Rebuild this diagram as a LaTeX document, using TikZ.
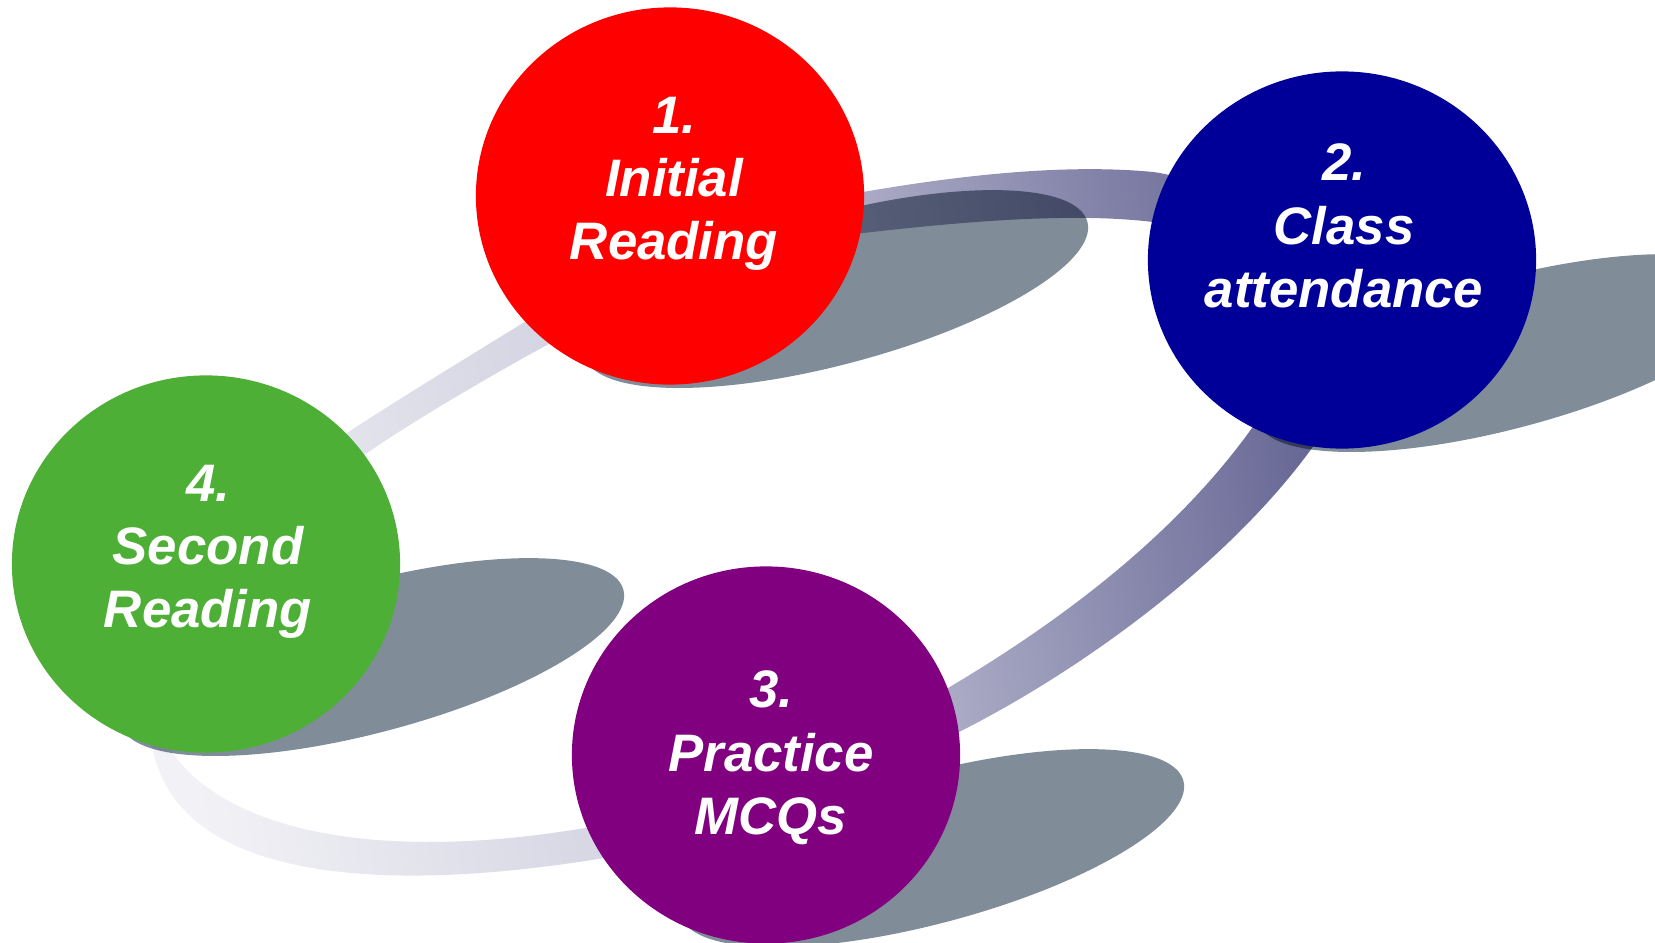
\documentclass[tikz,border=0pt]{standalone}
\usepackage{fontspec}
\setmainfont{Liberation Sans}
\usetikzlibrary{shapes.geometric}

\definecolor{stepred}{RGB}{255,0,0}
\definecolor{stepblue}{RGB}{0,0,153}
\definecolor{stepgreen}{RGB}{77,175,54}
\definecolor{steppurple}{RGB}{128,0,128}
\definecolor{shadowgray}{RGB}{128,141,153}
\definecolor{bandlight}{RGB}{242,242,246}
\definecolor{bandmid}{RGB}{202,202,220}
\definecolor{banddark}{RGB}{104,104,150}

\tikzset{
  stepdisc/.style={ellipse, minimum width=3.88cm, minimum height=3.77cm, inner sep=0pt},
  steplabel/.style={align=center, text=white, inner sep=0pt,
    font=\fontsize{15}{18}\selectfont\bfseries\itshape},
  blob/.style={ellipse, fill=shadowgray, minimum width=5.2cm, minimum height=1.5cm,
    inner sep=0pt, rotate=15, blend mode=multiply},
}

\begin{document}
\begin{tikzpicture}[x=0.01cm, y=-0.01cm]
  \useasboundingbox (0,0) rectangle (1655,943);
  \clip (0,0) rectangle (1655,943);
  \coordinate (p1) at (670,196);
  \coordinate (p2) at (1342,260);
  \coordinate (p3) at (766,755);
  \coordinate (p4) at (206,564);
  % the ring behind the discs (outer edge, then inner edge)
  \shade[even odd rule, left color=bandlight, right color=banddark, middle color=bandmid, shading angle=100]
    (863,192) .. controls (950,177) and (1060,163) .. (1153,172)
      .. controls (1290,190) and (1350,395) .. (1312,448)
      .. controls (1224,569) and (1073,675) .. (957,733)
      .. controls (868,778) and (703,844) .. (604,858)
      .. controls (380,895) and (180,880) .. (153,750)
      .. controls (113,658) and (263,488) .. (347,433)
      .. controls (397,400) and (476,352) .. (523,323)
      .. controls (651,245) and (715,218) .. cycle
    (863,233) .. controls (960,222) and (1070,212) .. (1153,222)
      .. controls (1232,232) and (1298,363) .. (1252,428)
      .. controls (1171,541) and (1051,627) .. (948,688)
      .. controls (862,739) and (684,812) .. (585,828)
      .. controls (388,861) and (234,835) .. (174,755)
      .. controls (114,675) and (285,510) .. (367,453)
      .. controls (416,419) and (499,371) .. (547,345)
      .. controls (661,284) and (734,247) .. cycle;
  % shadows
  \node[blob] (s1) at ([xshift=1.66cm, yshift=-0.93cm]p1) {};
  \node[blob] (s2) at ([xshift=1.66cm, yshift=-0.93cm]p2) {};
  \node[blob] (s3) at ([xshift=1.66cm, yshift=-0.93cm]p3) {};
  \node[blob] (s4) at ([xshift=1.66cm, yshift=-0.93cm]p4) {};
  % discs
  \node[stepdisc, fill=stepred] (c1) at (p1) {};
  \node[stepdisc, fill=stepblue] (c2) at (p2) {};
  \node[stepdisc, fill=steppurple] (c3) at (p3) {};
  \node[stepdisc, fill=stepgreen] (c4) at (p4) {};
  \node[steplabel] (t1) at ([xshift=0.04cm, yshift=0.12cm]c1.center) {1.\\Initial\\Reading};
  \node[steplabel] (t2) at ([xshift=0.02cm, yshift=0.34cm]c2.center) {2.\\Class\\attendance};
  \node[steplabel] (t3) at ([xshift=0.05cm, yshift=-0.03cm]c3.center) {3.\\Practice\\MCQs};
  \node[steplabel] (t4) at ([xshift=0.02cm, yshift=0.12cm]c4.center) {4.\\Second\\Reading};
\end{tikzpicture}
\end{document}
